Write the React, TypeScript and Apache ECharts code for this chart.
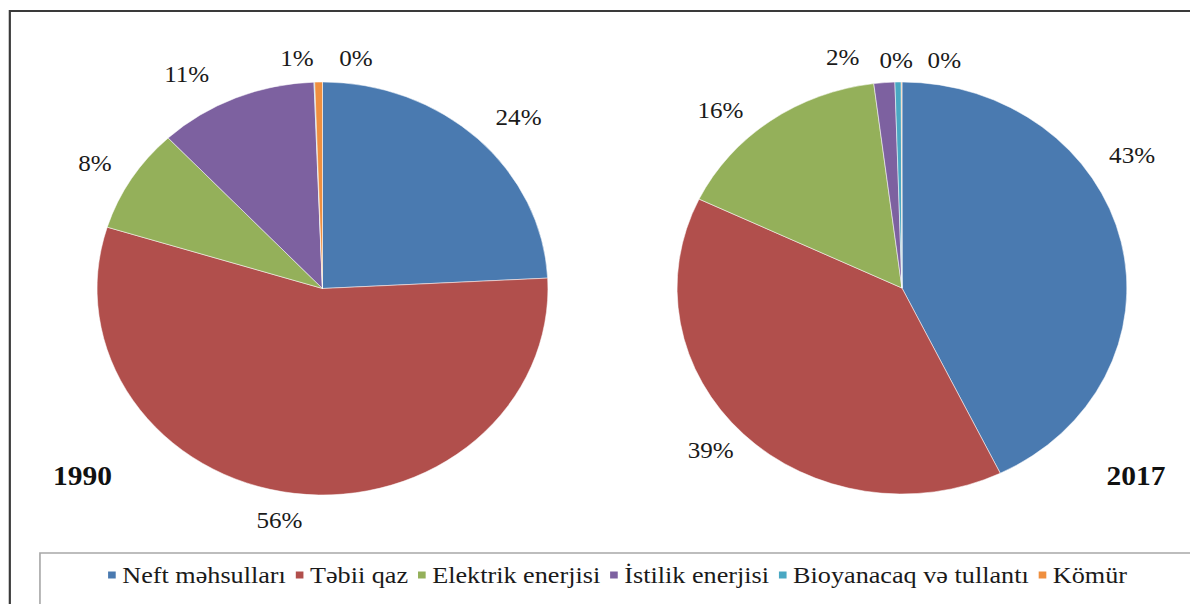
import React, { useEffect, useRef } from "react";
import * as echarts from "echarts";

const categories = [
  "Neft məhsulları",
  "Təbii qaz",
  "Elektrik enerjisi",
  "İstilik enerjisi",
  "Bioyanacaq və tullantı",
  "Kömür",
];
const values1990 = [24.2, 55.6, 8.2, 11.4, 0.05, 0.55];
const values2017 = [42.8, 39.3, 15.9, 1.5, 0.45, 0.05];
const years = ["1990", "2017"];
const colors = ["#4a7ab0", "#b14f4c", "#94b05a", "#7d61a0", "#4aa8c3", "#ef8f3f"];

// horizontal stretch of the whole picture
const SX = 1.0917;
const W = 1090;
const H = 604;

// label centres (unstretched px), per pie, in category order
const labelPos1990 = [
  [475, 117], [256, 520], [87, 163], [171, 74], [326, 58], [272, 58],
];
const labelPos2017 = [
  [1037, 155], [651, 450], [660, 110], [772, 57], [821, 60], [865, 60],
];
const labelPos = [labelPos1990, labelPos2017];

const FONT = "Liberation Serif";

export default function App() {
  const ref = useRef<HTMLDivElement>(null);
  useEffect(() => {
    if (!ref.current) return;
    const chart = echarts.init(ref.current, null, { renderer: "svg" });
    const mkSeries = (vals: number[], idx: number, center: number[], r: number) => ({
      type: "pie",
      name: years[idx],
      center,
      radius: r,
      startAngle: 90,
      clockwise: true,
      avoidLabelOverlap: false,
      itemStyle: { borderColor: "#ffffff", borderWidth: 0.5 },
      label: {
        show: true,
        position: "outside",
        formatter: (p: any) => Math.round(p.percent) + "%",
        fontFamily: FONT,
        fontSize: 23,
        color: "#1a1a1a",
      },
      labelLine: { show: false },
      labelLayout: (p: any) => {
        const pos = labelPos[idx][p.dataIndex];
        return { x: pos[0], y: pos[1], align: "center", verticalAlign: "middle" };
      },
      emphasis: { disabled: true },
      data: categories.map((c, i) => ({ name: c, value: vals[i] })),
    });
    chart.setOption({
      animation: false,
      color: colors,
      textStyle: { fontFamily: FONT },
      legend: {
        data: categories,
        left: 92,
        top: 558,
        icon: "rect",
        itemWidth: 9,
        itemHeight: 9,
        itemGap: 7,
        textStyle: { fontFamily: FONT, fontSize: 24, color: "#1a1a1a" },
        selectedMode: false,
      },
      graphic: [
        {
          type: "rect",
          shape: { x: 9, y: 11, width: 1200, height: 700 },
          style: { fill: "none", stroke: "#3a3a3a", lineWidth: 2 },
          silent: true,
        },
        {
          type: "rect",
          shape: { x: 36.6, y: 553, width: 1200, height: 200 },
          style: { fill: "none", stroke: "#a8a8a8", lineWidth: 1.5 },
          silent: true,
        },
        {
          type: "text",
          x: 48.5,
          y: 476,
          style: {
            text: years[0],
            fontFamily: FONT,
            fontWeight: "bold",
            fontSize: 27,
            fill: "#111",
            textVerticalAlign: "middle",
          },
        },
        {
          type: "text",
          x: 1013.5,
          y: 476,
          style: {
            text: years[1],
            fontFamily: FONT,
            fontWeight: "bold",
            fontSize: 27,
            fill: "#111",
            textVerticalAlign: "middle",
          },
        },
      ],
      series: [
        mkSeries(values1990, 0, [295.4, 288.5], 206.5),
        mkSeries(values2017, 1, [826.2, 288], 206),
      ],
    });
    return () => chart.dispose();
  }, []);
  return (
    <div
      ref={ref}
      style={{
        position: "absolute",
        left: 0,
        top: 0,
        width: W,
        height: H,
        transform: `scaleX(${SX})`,
        transformOrigin: "0 0",
        background: "#fff",
      }}
    />
  );
}
